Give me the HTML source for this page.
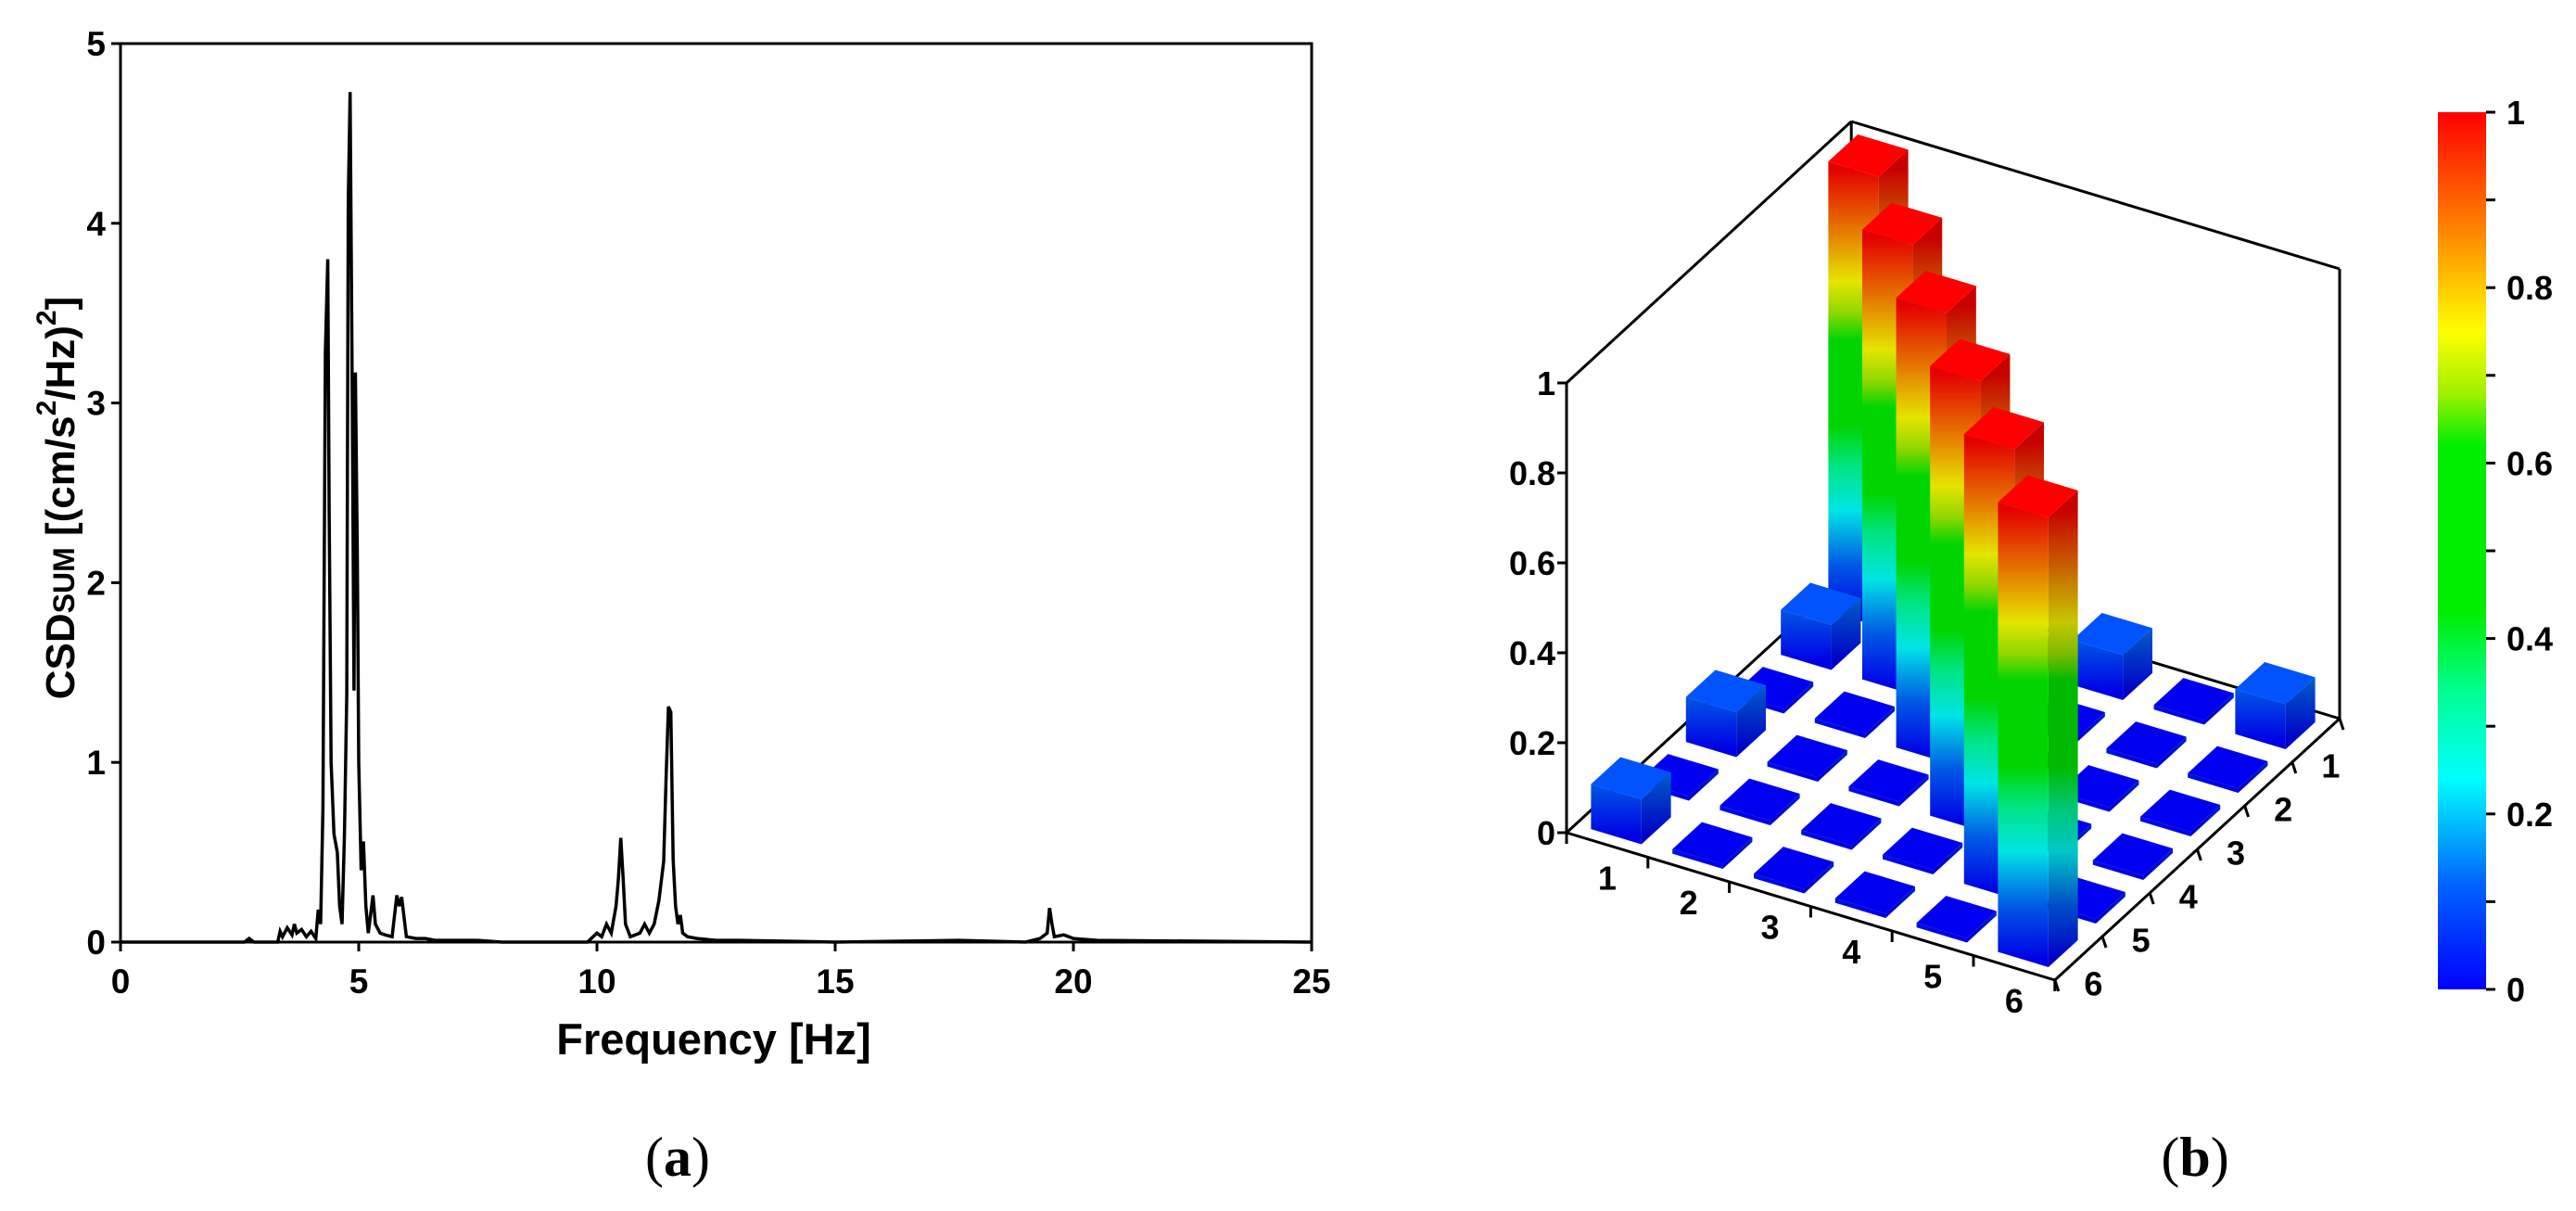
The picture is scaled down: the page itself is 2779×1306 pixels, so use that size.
<!DOCTYPE html>
<html><head><meta charset="utf-8"><style>
html,body{margin:0;padding:0;background:#fff;}
svg{display:block;font-family:"Liberation Sans",Arial,sans-serif;}
</style></head><body>
<svg id="fig" width="2779" height="1306" viewBox="0 0 2779 1306" xmlns="http://www.w3.org/2000/svg">
<defs>
<linearGradient id="jetbar" x1="0" y1="1" x2="0" y2="0">
<stop offset="0" stop-color="#0000ff"/><stop offset="0.12" stop-color="#0064ff"/><stop offset="0.24" stop-color="#00ffff"/><stop offset="0.34" stop-color="#00ff90"/><stop offset="0.43" stop-color="#00ee00"/><stop offset="0.62" stop-color="#00ee00"/><stop offset="0.68" stop-color="#a0f000"/><stop offset="0.75" stop-color="#ffff00"/><stop offset="0.87" stop-color="#ff8000"/><stop offset="1" stop-color="#ff0000"/>
</linearGradient>
</defs>
<g id="left"></g>
<g id="right"></g>
<text x="731" y="1268" text-anchor="middle" font-family="Liberation Serif,serif" font-size="60">(<tspan font-weight="bold">a</tspan>)</text>
<text x="2368" y="1268" text-anchor="middle" font-family="Liberation Serif,serif" font-size="60">(<tspan font-weight="bold">b</tspan>)</text>
</svg>
<script>
// ---------- Left chart data ----------
const freqs = [0,2.6,2.7,2.8,3.3,3.35,3.4,3.5,3.6,3.65,3.7,3.8,3.9,4.0,4.1,4.15,4.2,4.25,4.3,4.35,4.38,4.42,4.48,4.55,4.6,4.65,4.7,4.75,4.78,4.82,4.86,4.9,4.93,4.97,5.0,5.05,5.1,5.15,5.2,5.3,5.35,5.45,5.55,5.7,5.8,5.85,5.9,6.0,6.2,6.4,6.6,7.0,7.5,8.0,9.8,10.0,10.1,10.2,10.3,10.4,10.45,10.5,10.55,10.6,10.7,10.9,11.0,11.1,11.2,11.3,11.4,11.45,11.5,11.55,11.6,11.65,11.7,11.75,11.8,11.9,12.1,12.5,13.0,15.0,17.6,19.0,19.3,19.45,19.5,19.55,19.6,19.8,20.0,20.5,25];
const amps  = [0,0,0.02,0,0,0.06,0.03,0.08,0.04,0.1,0.05,0.07,0.03,0.06,0.02,0.18,0.1,0.75,3.28,3.8,2.4,1.0,0.6,0.5,0.2,0.1,0.6,1.38,4.12,4.73,3.2,1.4,3.17,2.15,1.0,0.4,0.56,0.2,0.05,0.26,0.1,0.05,0.04,0.03,0.26,0.2,0.25,0.03,0.02,0.02,0.01,0.01,0.01,0,0,0.05,0.03,0.1,0.05,0.2,0.35,0.58,0.35,0.1,0.03,0.05,0.1,0.05,0.1,0.23,0.45,0.9,1.31,1.28,0.46,0.2,0.1,0.15,0.05,0.03,0.02,0.01,0.01,0,0.01,0,0.02,0.05,0.19,0.1,0.03,0.04,0.02,0.01,0];
const xTicks = [0,5,10,15,20,25];
const yTicks = [0,1,2,3,4,5];

// ---------- Right chart data ----------
const rowLabels = ["1","2","3","4","5","6"];
const colLabels = ["1","2","3","4","5","6"];
const matRow1 = [1,0.1,0.01,0.1,0.01,0.1];
const matRow2 = [0.1,1,0.01,0.01,0.01,0.01];
const matRow3 = [0.01,0.01,1,0.01,0.01,0.01];
const matRow4 = [0.1,0.01,0.01,1,0.01,0.01];
const matRow5 = [0.01,0.01,0.01,0.01,1,0.01];
const matRow6 = [0.1,0.01,0.01,0.01,0.01,1];
const zTicks = [0,0.2,0.4,0.6,0.8,1];
const zTickLabels = ["0","0.2","0.4","0.6","0.8","1"];
const cbTicks = [0,0.1,0.2,0.3,0.4,0.5,0.6,0.7,0.8,0.9,1];
const cbLabels = ["0","0.2","0.4","0.6","0.8","1"];

const NS="http://www.w3.org/2000/svg";
function mk(tag,attrs,parent){const e=document.createElementNS(NS,tag);for(const k in attrs)e.setAttribute(k,attrs[k]);parent.appendChild(e);return e;}

// ---------- Left chart ----------
const L=document.getElementById('left');
const X0=130,X1=1415,Y0=1016,Y1=47;
const xs=f=>X0+f*(X1-X0)/25;
const ys=v=>Y0-v*(Y0-Y1)/5;
let pts=freqs.map((f,i)=>xs(f).toFixed(1)+','+ys(amps[i]).toFixed(1)).join(' ');
const line=mk('polyline',{points:pts,fill:'none',stroke:'#000','stroke-width':3.5,'stroke-linejoin':'miter'},L);


const frame=mk('rect',{x:X0,y:Y1,width:X1-X0,height:Y0-Y1,fill:'none',stroke:'#000','stroke-width':3},L);


xTicks.forEach(t=>{
  const x=xs(t);
  const tk=mk('line',{x1:x,y1:Y0,x2:x,y2:Y0+10,stroke:'#000','stroke-width':3},L);
  
  
  const tx=mk('text',{x:x,y:Y0+55,'text-anchor':'middle','font-size':37,'font-weight':'bold'},L);
  tx.textContent=t;
  
  
});
yTicks.forEach(t=>{
  const y=ys(t);
  const tk=mk('line',{x1:X0-10,y1:y,x2:X0,y2:y,stroke:'#000','stroke-width':3},L);
  
  
  const tx=mk('text',{x:X0-16,y:y+13,'text-anchor':'end','font-size':37,'font-weight':'bold'},L);
  tx.textContent=t;
  
  
});
const xt=mk('text',{x:770,y:1137,'text-anchor':'middle','font-size':47,'font-weight':'bold'},L);
xt.textContent='Frequency [Hz]';


const yt=mk('text',{x:0,y:0,'text-anchor':'middle','font-size':44,'font-weight':'bold',transform:'translate(80,537) rotate(-90)'},L);
yt.innerHTML='CSD<tspan font-size="32">SUM</tspan> [(cm/s<tspan font-size="30" dy="-20">2</tspan><tspan dy="20">/Hz)</tspan><tspan font-size="30" dy="-20">2</tspan><tspan dy="20">]</tspan>';



// ---------- Right chart ----------
const R=document.getElementById('right');
const OX=1690,OY=898,EX=[87.8,26.5],ED=[51.2,-47],EZ=485;
const P=(i,d,z)=>[OX+i*EX[0]+d*ED[0], OY+i*EX[1]+d*ED[1]-z*EZ];
const ps=a=>a.map(p=>p[0].toFixed(1)+','+p[1].toFixed(1)).join(' ');
function seg(a,b,name){const l=mk('line',{x1:a[0],y1:a[1],x2:b[0],y2:b[1],stroke:'#000','stroke-width':3},R);return l;}
seg(P(0,6,0),P(6,6,0),'floor-back-edge');
seg(P(0,0,0),P(0,6,0),'floor-left-edge');
seg(P(0,6,0),P(0,6,1),'back-left-vertical');
seg(P(0,0,1),P(0,6,1),'top-left-edge');
seg(P(0,6,1),P(6,6,1),'top-back-edge');
seg(P(6,6,0),P(6,6,1),'back-right-vertical');

function jet(v){
  const st=[[0,[0,0,255]],[0.12,[0,100,255]],[0.24,[0,255,255]],[0.34,[0,255,144]],[0.43,[0,238,0]],[0.62,[0,238,0]],[0.68,[160,240,0]],[0.75,[255,255,0]],[0.87,[255,128,0]],[1,[255,0,0]]];
  for(let k=1;k<st.length;k++){if(v<=st[k][0]){const a=st[k-1],b=st[k],t=(v-a[0])/(b[0]-a[0]);return 'rgb('+a[1].map((c,j)=>Math.round(c+(b[1][j]-c)*t)).join(',')+')';}}
  return 'rgb(255,0,0)';
}
const matrix=[matRow1,matRow2,matRow3,matRow4,matRow5,matRow6];
const cells=[];
matrix.forEach((row,r)=>row.forEach((v,c)=>cells.push({r,c,v,i:r+0.5,d:5.5-c})));
cells.sort((a,b)=>(b.d-b.i)-(a.d-a.i));
const defs=document.querySelector('defs');
const H=0.31;
cells.forEach((cl,k)=>{
  const g=mk('g',{},R);
  
  
  const i=cl.i,d=cl.d,v=cl.v;
  const gb=P(i,d-H,0), gt=P(i,d-H,1);
  const gid='g'+k;
  const lg=mk('linearGradient',{id:gid,gradientUnits:'userSpaceOnUse',x1:0,y1:gb[1],x2:0,y2:gt[1]},defs);
  document.getElementById('jetbar').querySelectorAll('stop').forEach(s=>mk('stop',{offset:s.getAttribute('offset'),'stop-color':s.getAttribute('stop-color')},lg));
  const front=[P(i-H,d-H,0),P(i+H,d-H,0),P(i+H,d-H,v),P(i-H,d-H,v)];
  const side=[P(i+H,d-H,0),P(i+H,d+H,0),P(i+H,d+H,v),P(i+H,d-H,v)];
  const top=[P(i-H,d-H,v),P(i+H,d-H,v),P(i+H,d+H,v),P(i-H,d+H,v)];
  mk('polygon',{points:ps(front),fill:'url(#'+gid+')'},g);
  mk('polygon',{points:ps(front),fill:'#000','fill-opacity':0.1},g);
  mk('polygon',{points:ps(side),fill:'url(#'+gid+')'},g);
  mk('polygon',{points:ps(side),fill:'#000','fill-opacity':0.22},g);
  mk('polygon',{points:ps(top),fill:v<0.05?'#0000f0':jet(v)},g);
});
seg(P(0,0,0),P(6,0,0),'row-axis');
seg(P(6,0,0),P(6,6,0),'col-axis');
seg(P(0,0,0),P(0,0,1),'z-axis');
for(let k=0;k<=6;k++){
  const a=P(k,0,0);
  const tk=mk('line',{x1:a[0],y1:a[1],x2:a[0],y2:a[1]+12,stroke:'#000','stroke-width':3},R);
  
  
  const b=P(6,k,0);
  const tk2=mk('line',{x1:b[0],y1:b[1],x2:b[0]+4,y2:b[1]+12,stroke:'#000','stroke-width':3},R);
  
  
}
rowLabels.forEach((lab,k)=>{
  const a=P(k+0.5,0,0);
  const t=mk('text',{x:a[0],y:a[1]+48,'text-anchor':'middle','font-size':36,'font-weight':'bold'},R);
  t.textContent=lab;
  
  
});
colLabels.forEach((lab,k)=>{
  const a=P(6,5.5-k,0);
  const t=mk('text',{x:a[0]+16,y:a[1]+40,'text-anchor':'middle','font-size':36,'font-weight':'bold'},R);
  t.textContent=lab;
  
  
});
zTicks.forEach((z,k)=>{
  const a=P(0,0,z);
  const tk=mk('line',{x1:a[0]-10,y1:a[1],x2:a[0],y2:a[1],stroke:'#000','stroke-width':3},R);
  
  
  const t=mk('text',{x:a[0]-12,y:a[1]+13,'text-anchor':'end','font-size':36,'font-weight':'bold'},R);
  t.textContent=zTickLabels[k];
  
  
});
const CBX=2630,CBW=52,CBT=121,CBB=1067;
const cb=mk('rect',{x:CBX,y:CBT,width:CBW,height:CBB-CBT,fill:'url(#jetbar)'},R);


const cy=v=>CBB-v*(CBB-CBT);
cbTicks.forEach(v=>{
  const tk=mk('line',{x1:CBX+CBW,y1:cy(v),x2:CBX+CBW+10,y2:cy(v),stroke:'#000','stroke-width':3},R);
  
  
});
cbLabels.forEach(s=>{
  const v=parseFloat(s);
  const t=mk('text',{x:CBX+CBW+22,y:cy(v)+13,'font-size':36,'font-weight':'bold'},R);
  t.textContent=s;
  
  
});
</script>
</body></html>
